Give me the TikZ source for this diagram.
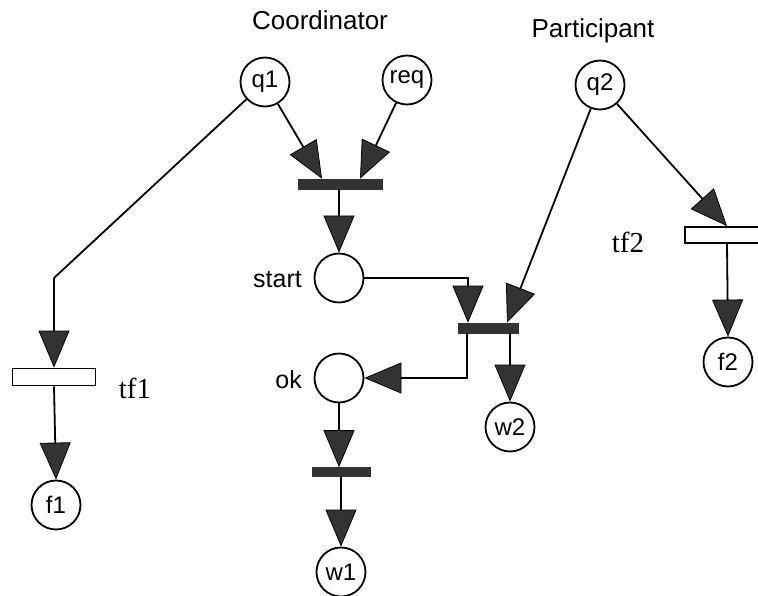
\documentclass[tikz,border=0pt]{standalone}
\usepackage{fontspec}
\setmainfont{Liberation Sans}
\newfontfamily\labelserif{Liberation Serif}
\usetikzlibrary{arrows.meta}
\definecolor{tipgray}{HTML}{333333}
\begin{document}
\begin{tikzpicture}[x=1pt,y=-1pt,
  place/.style={circle,draw,line width=1.8pt,minimum size=49pt,inner sep=0pt,
    font=\fontsize{24}{26}\selectfont},
  darkbar/.style={rectangle,draw=tipgray,fill=tipgray,line width=0.6pt,inner sep=0pt},
  whitebar/.style={rectangle,draw,fill=white,line width=1.8pt,inner sep=0pt},
  title/.style={font=\fontsize{26}{28}\selectfont},
  sidelabel/.style={font=\fontsize{25}{27}\selectfont,anchor=east,inner sep=0pt},
  serlabel/.style={font=\labelserif\fontsize{29}{31}\selectfont},
  arc/.style={line width=1.8pt,
    -{Triangle[length=37pt,width=31pt,fill=tipgray,line width=0.8pt]}},
  plain/.style={line width=1.8pt}]
\useasboundingbox (0,0) rectangle (758,596);

% group headings
\node[title] (coord) at (320,20) {Coordinator};
\node[title] (part) at (593,31) {Participant};

% places
\node[place] (q1) at (265,82) {q1};
\node[place] (req) at (407,80) {req};
\node[place] (q2) at (600,85) {q2};
\node[place] (start) at (339,278) {};
\node[place] (ok) at (339,378) {};
\node[place] (w2) at (510,427) {w2};
\node[place] (w1) at (341,572) {w1};
\node[place] (f1) at (56,505) {f1};
\node[place] (f2) at (728,362) {f2};

% place labels outside the circles
\node[sidelabel] (startlbl) at (302,280) {start};
\node[sidelabel] (oklbl) at (302,380) {ok};

% transitions
\node[darkbar,minimum width=84pt,minimum height=10pt] (bar1) at (340,184) {};
\node[darkbar,minimum width=60pt,minimum height=10pt] (bar2) at (488,328) {};
\node[darkbar,minimum width=58pt,minimum height=9pt] (bar3) at (341,472) {};
\node[whitebar,minimum width=83pt,minimum height=17pt] (tf1) at (54,377) {};
\node[whitebar,minimum width=84pt,minimum height=16pt] (tf2) at (727,235) {};

% transition labels
\node[serlabel] (tf1lbl) at (135,388) {tf1};
\node[serlabel] (tf2lbl) at (628,242) {tf2};

% bend point of the q1 -> tf1 arc
\coordinate (k1) at (54,278);

% arcs
\draw[arc] (q1) -- ([xshift=-18pt]bar1.north);
\draw[arc] (req) -- ([xshift=20pt]bar1.north);
\draw[arc] (bar1.south -| start.north) -- (start.north);
\draw[arc] (start.east) -| ([xshift=-20pt]bar2.north);
\draw[arc] (q2) -- ([xshift=19pt]bar2.north);
\draw[arc] ([xshift=-21pt]bar2.south) |- (ok.east);
\draw[arc] ([xshift=22pt]bar2.south) -- (w2.north);
\draw[arc] (ok.south) -- (bar3.north -| ok.south);
\draw[arc] (bar3.south -| w1.north) -- (w1.north);
\draw[plain] (q1) -- (k1);
\draw[arc] (k1) -- (tf1.north);
\draw[arc] (tf1.south) -- (f1.north);
\draw[arc] (q2) -- (tf2.north);
\draw[arc] (tf2.south) -- (f2.north);
\end{tikzpicture}
\end{document}
